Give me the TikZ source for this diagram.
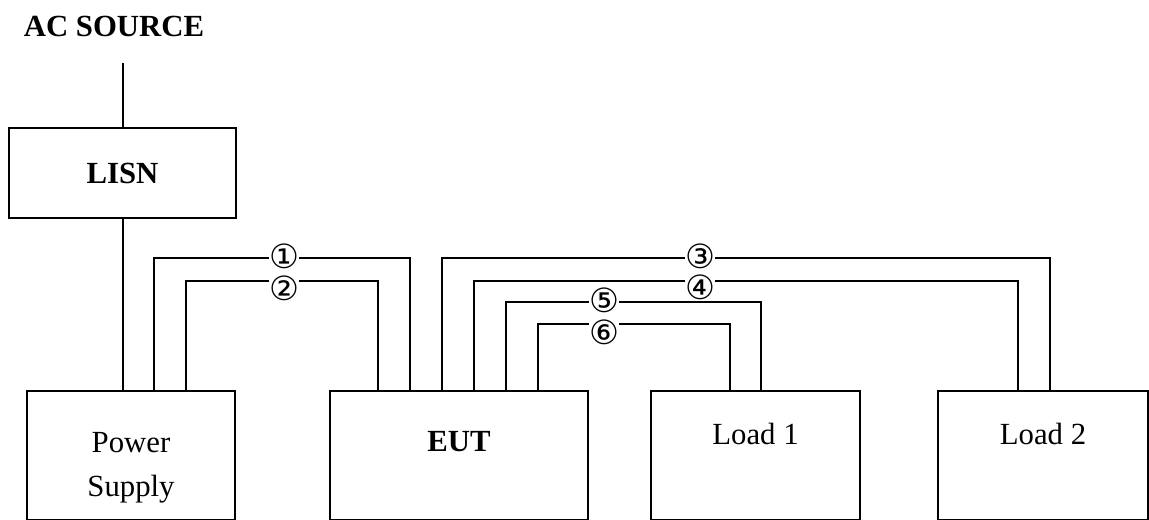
\documentclass[tikz,border=0pt]{standalone}
\usepackage{fontspec}
\setmainfont{Liberation Serif}
\newfontfamily\circfont{DejaVu Sans}
\usetikzlibrary{calc}
\tikzstyle{box}+=[draw,line width=1.1pt,minimum height=2.58cm,inner sep=0pt]
\tikzstyle{wire}+=[line width=1.1pt]
\tikzstyle{num}+=[fill=white,inner sep=0.2pt,font=\circfont\fontsize{19}{19}\selectfont]
\tikzstyle{T}+=[anchor=base,font=\fontsize{17.5}{25}\selectfont]

\begin{document}
\begin{tikzpicture}[x=0.02cm,y=-0.02cm]
        \useasboundingbox (0,0) rectangle (1149,520);

        % source and LISN
        \node[T,font=\bfseries\fontsize{17.5}{25}\selectfont] (acsrc) at (114,37) {AC SOURCE};
        \coordinate (ac) at (123,63);
        \node[box,minimum width=4.54cm,minimum height=1.8cm,font=\bfseries\fontsize{17.5}{25}\selectfont] (lisn) at (122.5,173) {LISN};

        % units
        \node[box,minimum width=4.16cm] (ps) at (131,455.5) {};
        \node[box,minimum width=5.16cm] (eut) at (459,455.5) {};
        \node[box,minimum width=4.18cm] (load1) at (755.5,455.5) {};
        \node[box,minimum width=4.2cm] (load2) at (1043,455.5) {};
        \node[T,align=center] (pstext) at ($(ps.north)+(0,106)$) {Power\\Supply};
        \node[T,font=\bfseries\fontsize{17.5}{25}\selectfont] (euttext) at ($(eut.north)+(0,61)$) {EUT};
        \node[T] (l1text) at ($(load1.north)+(0,54)$) {Load 1};
        \node[T] (l2text) at ($(load2.north)+(0,54)$) {Load 2};

        % mains
        \draw[wire] (ac) -- (ac |- lisn.north);
        \draw[wire] (ac |- lisn.south) -- (ac |- ps.north);

        % cables
        \draw[wire] ($(ps.north west)+(128,0)$) -- ++(0,-132) -| ($(eut.north west)+(81,0)$);
        \draw[wire] ($(ps.north west)+(160,0)$) -- ++(0,-109) -| ($(eut.north west)+(49,0)$);
        \draw[wire] ($(eut.north west)+(113,0)$) -- ++(0,-132) -| ($(load2.north west)+(113,0)$);
        \draw[wire] ($(eut.north west)+(145,0)$) -- ++(0,-109) -| ($(load2.north west)+(81,0)$);
        \draw[wire] ($(eut.north west)+(177,0)$) -- ++(0,-88) -| ($(load1.north west)+(111,0)$);
        \draw[wire] ($(eut.north west)+(209,0)$) -- ++(0,-66) -| ($(load1.north west)+(80,0)$);

        \node[num] (c1) at (284,256) {①};
        \node[num] (c2) at (284,288) {②};
        \node[num] (c3) at (700,256) {③};
        \node[num] (c4) at (700,287) {④};
        \node[num] (c5) at (604,300) {⑤};
        \node[num] (c6) at (604,332) {⑥};

    \end{tikzpicture}
\end{document}
